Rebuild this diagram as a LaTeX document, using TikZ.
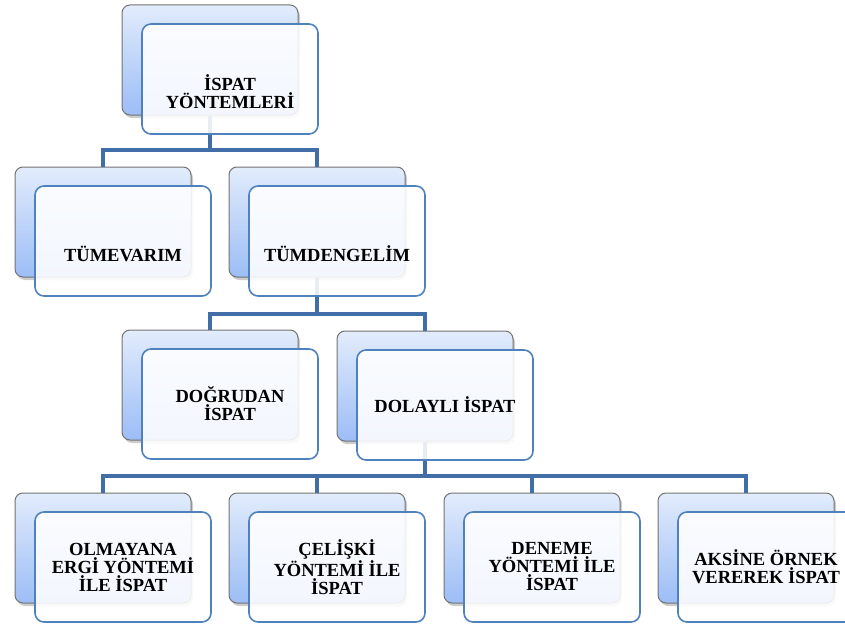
\documentclass[tikz,border=0pt]{standalone}
\usepackage{fontspec}
\setmainfont{Liberation Serif}
\usetikzlibrary{shadows}
\definecolor{connblue}{RGB}{66,110,168}
\definecolor{frontblue}{RGB}{79,129,189}
\definecolor{backtop}{RGB}{226,236,252}
\definecolor{backbottom}{RGB}{156,189,246}
\begin{document}
\begin{tikzpicture}[
		x=1pt, y=-1pt,
		back/.style={rectangle, rounded corners=8pt, draw=black!55, line width=1pt,
				top color=backtop, bottom color=backbottom,
				minimum width=176pt, minimum height=110pt,
				drop shadow={shadow xshift=2pt, shadow yshift=-3pt, opacity=0.4}},
		front/.style={rectangle, rounded corners=9pt, draw=frontblue, line width=1.6pt,
				fill=white, fill opacity=0.88, minimum width=176pt, minimum height=110pt},
		txt/.style={align=center, inner sep=0pt, font=\bfseries\fontsize{18.5}{18}\selectfont},
		conn/.style={draw=connblue, line width=4.5pt}
	]
	\useasboundingbox (0,0) rectangle (845,626);

	\node[back] (b1) at (210,60) {};
	\node[back] (b2) at (103,222) {};
	\node[back] (b3) at (317,222) {};
	\node[back] (b4) at (210,385) {};
	\node[back] (b5) at (425,386) {};
	\node[back] (b6) at (103,548) {};
	\node[back] (b7) at (317,548) {};
	\node[back] (b8) at (532,548) {};
	\node[back] (b9) at (746,548) {};

	\coordinate (j1) at (210,150);
	\coordinate (j2) at (317,314);
	\coordinate (j3) at (425,476);
	\draw[conn] (b2.north) |- (j1) -| (b3.north) (j1) -- (b1.south);
	\draw[conn] (b4.north) |- (j2) -| (b5.north) (j2) -- (b3.south);
	\draw[conn] (b6.north) |- (j3) -| (b9.north)
		(b7.north) |- (j3) (b8.north) |- (j3) (j3) -- (b5.south);

	\foreach \i in {1,...,9}
		\node[front] (f\i) at ([shift={(20,19)}]b\i.center) {};

	\node[txt] (t1) at ([yshift=-13pt]f1.center) {İSPAT\\YÖNTEMLERİ};
	\node[txt] (t2) at ([yshift=-13pt]f2.center) {TÜMEVARIM};
	\node[txt] (t3) at ([yshift=-13pt]f3.center) {TÜMDENGELİM};
	\node[txt] (t4) at (f4.center) {DOĞRUDAN\\İSPAT};
	\node[txt] (t5) at (f5.center) {DOLAYLI İSPAT};
	\node[txt] (t6) at (f6.center) {OLMAYANA\\ERGİ YÖNTEMİ\\İLE İSPAT};
	\node[txt] (t7) at (f7.center) {ÇELİŞKİ\\YÖNTEMİ İLE\\İSPAT};
	\node[txt] (t8) at (f8.center) {DENEME\\YÖNTEMİ İLE\\İSPAT};
	\node[txt] (t9) at (f9.center) {AKSİNE ÖRNEK\\VEREREK İSPAT};
\end{tikzpicture}
\end{document}
